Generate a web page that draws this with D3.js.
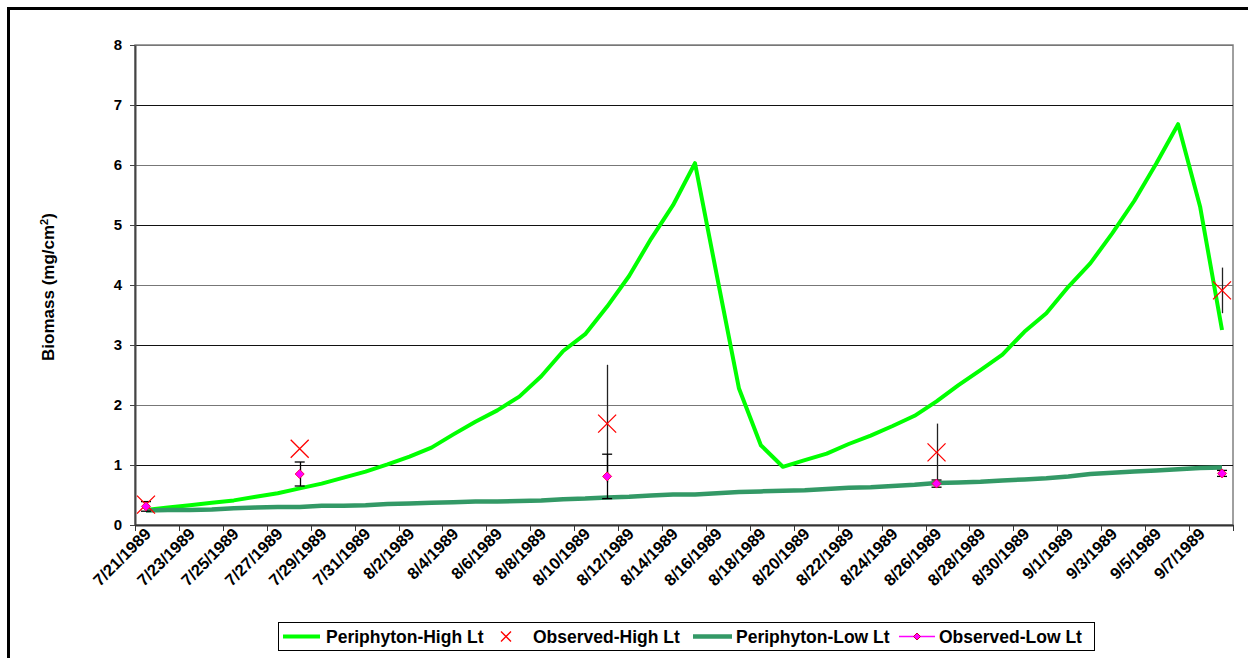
<!DOCTYPE html>
<html>
<head>
<meta charset="utf-8">
<script src="https://cdn.jsdelivr.net/npm/d3@7"></script>
<style>
  body { margin: 0; background: #fff; }
  svg { display: block; font-family: "Liberation Sans", Arial, sans-serif; font-weight: bold; }
</style>
</head>
<body>
<div id="chart"></div>
<script>
// Dates (one category per day)
const dates = [
    "7/21/1989", "7/22/1989", "7/23/1989", "7/24/1989", "7/25/1989", "7/26/1989", "7/27/1989", "7/28/1989",
    "7/29/1989", "7/30/1989", "7/31/1989", "8/1/1989", "8/2/1989", "8/3/1989", "8/4/1989", "8/5/1989",
    "8/6/1989", "8/7/1989", "8/8/1989", "8/9/1989", "8/10/1989", "8/11/1989", "8/12/1989", "8/13/1989",
    "8/14/1989", "8/15/1989", "8/16/1989", "8/17/1989", "8/18/1989", "8/19/1989", "8/20/1989", "8/21/1989",
    "8/22/1989", "8/23/1989", "8/24/1989", "8/25/1989", "8/26/1989", "8/27/1989", "8/28/1989", "8/29/1989",
    "8/30/1989", "8/31/1989", "9/1/1989", "9/2/1989", "9/3/1989", "9/4/1989", "9/5/1989", "9/6/1989",
    "9/7/1989", "9/8/1989"
];

// Modelled biomass, high light
const highLt = [
    0.25, 0.29, 0.33, 0.37, 0.41, 0.47, 0.53, 0.61, 0.69, 0.79,
    0.89, 1.01, 1.14, 1.29, 1.51, 1.72, 1.91, 2.14, 2.48, 2.90,
    3.18, 3.64, 4.15, 4.77, 5.33, 6.03, 4.15, 2.28, 1.33, 0.97,
    1.08, 1.19, 1.35, 1.49, 1.65, 1.82, 2.06, 2.33, 2.58, 2.84,
    3.22, 3.53, 3.97, 4.36, 4.86, 5.40, 6.02, 6.68, 5.31, 3.25
];

// Modelled biomass, low light
const lowLt = [
    0.24, 0.25, 0.25, 0.26, 0.28, 0.29, 0.30, 0.30, 0.32, 0.32,
    0.33, 0.35, 0.36, 0.37, 0.38, 0.39, 0.39, 0.40, 0.41, 0.43,
    0.44, 0.46, 0.47, 0.49, 0.51, 0.51, 0.53, 0.55, 0.56, 0.57,
    0.58, 0.60, 0.62, 0.63, 0.65, 0.67, 0.70, 0.71, 0.72, 0.74,
    0.76, 0.78, 0.81, 0.85, 0.87, 0.89, 0.91, 0.93, 0.95, 0.96
];

// Observations
const obsDates = ["7/21/1989", "7/28/1989", "8/11/1989", "8/26/1989", "9/8/1989"];
const obsHigh = [0.34, 1.27, 1.69, 1.21, 3.91];
const obsHighErr = [0, 0, 0.98, 0.48, 0.38];
const obsLow = [0.31, 0.85, 0.81, 0.69, 0.86];
const obsLowErr = [0.08, 0.20, 0.37, 0.06, 0.05];

const yTicks = [0, 1, 2, 3, 4, 5, 6, 7, 8];

const W = 1248, H = 658;
const margin = { top: 45, right: 15, bottom: 133, left: 135 };

const svg = d3.select("#chart").append("svg")
    .attr("width", W)
    .attr("height", H);

// outer chart border
svg.append("rect")
    .attr("x", 8.5).attr("y", 8.5)
    .attr("width", 1300).attr("height", 700)
    .attr("fill", "none")
    .attr("stroke", "#000")
    .attr("stroke-width", 3);

const x = d3.scaleBand().domain(dates).range([margin.left, W - margin.right]).padding(0);
const xc = d => x(d) + x.bandwidth() / 2;
const y = d3.scaleLinear().domain([0, 8]).range([H - margin.bottom, margin.top]);

// plot area border
svg.append("rect")
    .attr("x", margin.left).attr("y", y(8))
    .attr("width", x.range()[1] - margin.left).attr("height", y(0) - y(8))
    .attr("fill", "none")
    .attr("stroke", "#808080")
    .attr("stroke-width", 1.5);

// horizontal gridlines
svg.append("g")
    .selectAll("line")
    .data(yTicks.slice(1))
    .enter().append("line")
    .attr("x1", margin.left).attr("x2", x.range()[1])
    .attr("y1", d => Math.round(y(d)) + 0.5).attr("y2", d => Math.round(y(d)) + 0.5)
    .attr("stroke", (d, i) => i % 2 ? "#777" : "#111")
    .attr("stroke-width", 1);

// Y axis
const yAxis = svg.append("g")
    .attr("transform", "translate(" + margin.left + ",0)")
    .call(d3.axisLeft(y).tickValues(yTicks).tickSize(5).tickSizeOuter(0).tickPadding(8));
yAxis.select(".domain").attr("stroke", "#444").attr("stroke-width", 2);
yAxis.selectAll(".tick line").attr("stroke", "#444");
yAxis.selectAll("text")
    .attr("font-size", 15)
    .attr("font-weight", "bold")
    .attr("font-family", "Liberation Sans, Arial, sans-serif")
    .attr("fill", "#000");

// X axis: labels every other day
const labelDates = dates.filter((d, i) => i % 2 === 0);
const xAxis = svg.append("g")
    .attr("transform", "translate(0," + y(0) + ")")
    .call(d3.axisBottom(x).tickValues(labelDates).tickSize(0).tickSizeOuter(0));
xAxis.select(".domain").attr("stroke", "#333").attr("stroke-width", 2);
xAxis.selectAll("text")
    .attr("font-size", 16.5)
    .attr("font-weight", "bold")
    .attr("font-family", "Liberation Sans, Arial, sans-serif")
    .attr("fill", "#000")
    .attr("text-anchor", "end")
    .attr("dy", 0)
    .attr("y", 0)
    .attr("transform", "translate(6,10) rotate(-45)");

// X tick marks at every second category boundary
const tickPos = labelDates.map(d => x(d)).concat([x.range()[1]]);
svg.append("g")
    .selectAll("line")
    .data(tickPos)
    .enter().append("line")
    .attr("x1", d => Math.round(d) + 0.5).attr("x2", d => Math.round(d) + 0.5)
    .attr("y1", y(0)).attr("y2", y(0) + 6)
    .attr("stroke", "#333")
    .attr("stroke-width", 1);

// Y axis title
svg.append("text")
    .attr("transform", "translate(54," + ((y(0) + y(8)) / 2 + 2) + ") rotate(-90)")
    .attr("text-anchor", "middle")
    .attr("font-size", 17)
    .text("Biomass (mg/cm")
    .append("tspan")
    .attr("baseline-shift", "super")
    .attr("font-size", 11)
    .text("2")
    .select(function () { return this.parentNode; })
    .append("tspan")
    .text(")");

// Lines
const line = d3.line()
    .x((d, i) => xc(dates[i]))
    .y(d => y(d));

svg.append("path")
    .datum(highLt)
    .attr("d", line)
    .attr("fill", "none")
    .attr("stroke", "#00ff00")
    .attr("stroke-width", 4)
    .attr("stroke-linejoin", "round");

svg.append("path")
    .datum(lowLt)
    .attr("d", line)
    .attr("fill", "none")
    .attr("stroke", "#339966")
    .attr("stroke-width", 4.5)
    .attr("stroke-linejoin", "round");

// error bars, high (no caps)
svg.append("g")
    .selectAll("line")
    .data(obsDates)
    .enter().append("line")
    .attr("x1", d => Math.round(xc(d)) + 0.5).attr("x2", d => Math.round(xc(d)) + 0.5)
    .attr("y1", (d, i) => y(obsHigh[i] + obsHighErr[i]))
    .attr("y2", (d, i) => y(obsHigh[i] - obsHighErr[i]))
    .attr("stroke", "#222")
    .attr("stroke-width", 1.3);

// error bars, low (with caps)
const lowBars = svg.append("g")
    .selectAll("g")
    .data(obsDates)
    .enter().append("g");
lowBars.append("line")
    .attr("x1", d => Math.round(xc(d)) + 0.5).attr("x2", d => Math.round(xc(d)) + 0.5)
    .attr("y1", (d, i) => y(obsLow[i] + obsLowErr[i]))
    .attr("y2", (d, i) => y(obsLow[i] - obsLowErr[i]))
    .attr("stroke", "#000").attr("stroke-width", 1.3);
[1, -1].forEach(s => {
    lowBars.append("line")
        .attr("x1", d => xc(d) - 5).attr("x2", d => xc(d) + 5)
        .attr("y1", (d, i) => y(obsLow[i] + s * obsLowErr[i]))
        .attr("y2", (d, i) => y(obsLow[i] + s * obsLowErr[i]))
        .attr("stroke", "#000").attr("stroke-width", 1.3);
});

// X markers, observed high
const xMark = (sel, size) => sel.attr("d", "M" + (-size) + "," + (-size) + "L" + size + "," + size +
    "M" + (-size) + "," + size + "L" + size + "," + (-size));
xMark(svg.append("g")
    .selectAll("path")
    .data(obsDates)
    .enter().append("path")
    .attr("transform", (d, i) => "translate(" + xc(d) + "," + y(obsHigh[i]) + ")")
    .attr("fill", "none")
    .attr("stroke", "#ff0000")
    .attr("stroke-width", 1.3), 9);

// diamonds, observed low
const diamond = "M0,-4.5L4.5,0L0,4.5L-4.5,0Z";
svg.append("g")
    .selectAll("path")
    .data(obsDates)
    .enter().append("path")
    .attr("d", diamond)
    .attr("transform", (d, i) => "translate(" + xc(d) + "," + y(obsLow[i]) + ")")
    .attr("fill", "#ff00ff")
    .attr("stroke", "#ff0055")
    .attr("stroke-width", 1);

// Legend
const legend = svg.append("g");
legend.append("rect")
    .attr("x", 278.5).attr("y", 622.5)
    .attr("width", 816).attr("height", 28)
    .attr("fill", "#fff")
    .attr("stroke", "#000")
    .attr("stroke-width", 1);

const ly = 636.5;
legend.append("line").attr("x1", 283).attr("x2", 320).attr("y1", ly).attr("y2", ly)
    .attr("stroke", "#00ff00").attr("stroke-width", 4);
legend.append("path").attr("transform", "translate(506," + ly + ")")
    .call(xMark, 5).attr("stroke", "#ff0000").attr("stroke-width", 1.4);
legend.append("line").attr("x1", 693).attr("x2", 732).attr("y1", ly).attr("y2", ly)
    .attr("stroke", "#339966").attr("stroke-width", 4.5);
legend.append("line").attr("x1", 899).attr("x2", 935).attr("y1", ly).attr("y2", ly)
    .attr("stroke", "#ff00ff").attr("stroke-width", 1.5);
legend.append("path").attr("d", "M0,-3.5L3.5,0L0,3.5L-3.5,0Z")
    .attr("transform", "translate(917," + ly + ")")
    .attr("fill", "#ff00ff").attr("stroke", "#cc0033").attr("stroke-width", 1);

const legendText = [
    { t: "Periphyton-High Lt", x: 326 },
    { t: "Observed-High Lt", x: 533 },
    { t: "Periphyton-Low Lt", x: 736 },
    { t: "Observed-Low Lt", x: 939 }
];
legend.selectAll("text.lt")
    .data(legendText)
    .enter().append("text")
    .attr("class", "lt")
    .attr("x", d => d.x)
    .attr("y", ly + 6)
    .attr("font-size", 17.5)
    .text(d => d.t);
</script>
</body>
</html>
